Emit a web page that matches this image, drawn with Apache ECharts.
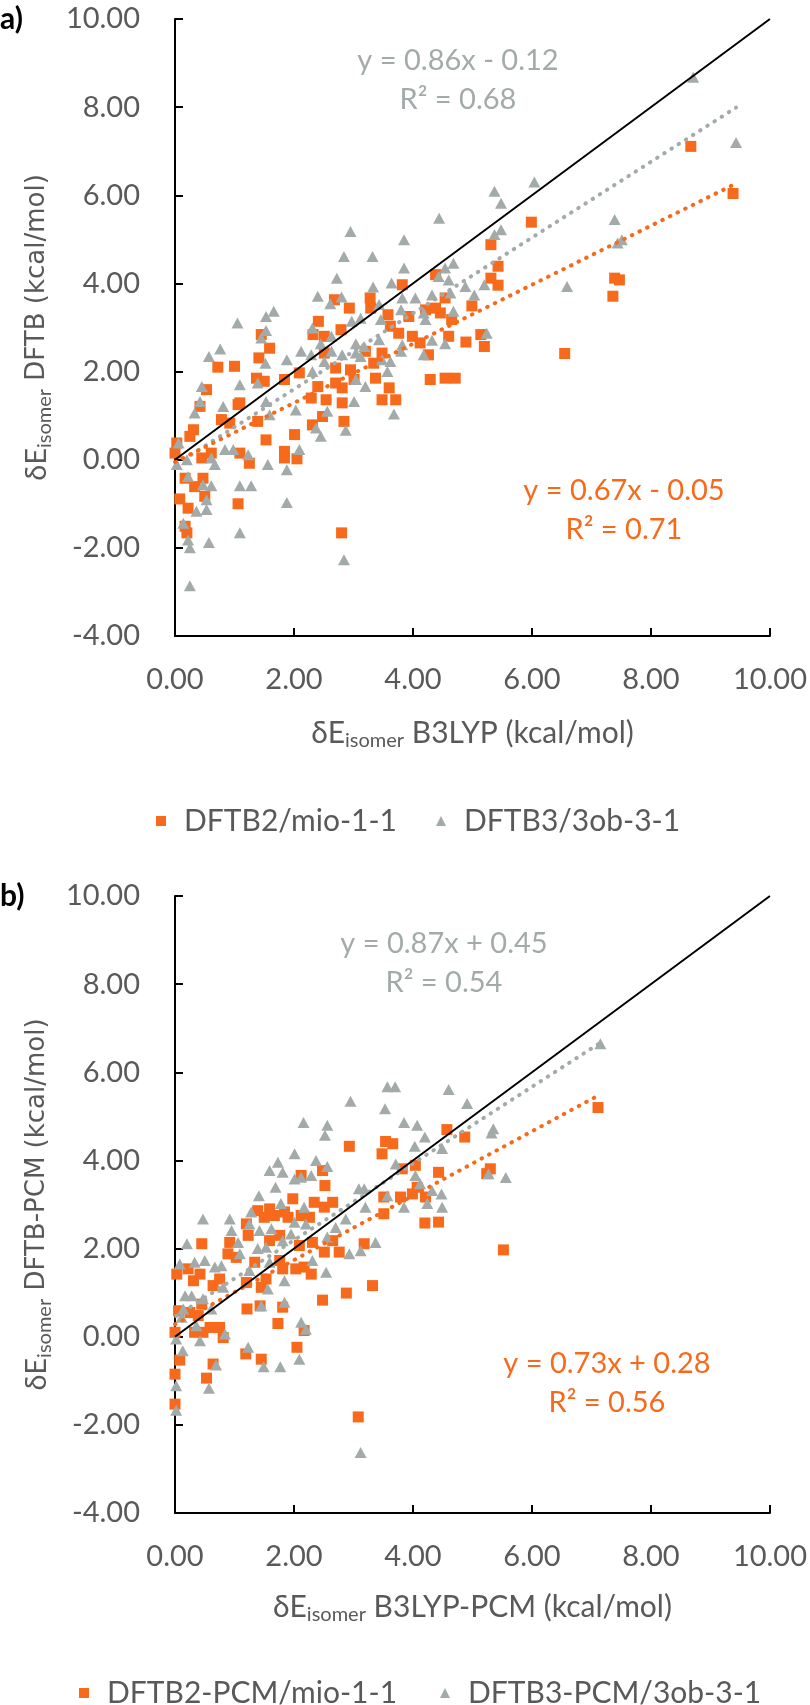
<!DOCTYPE html>
<html>
<head>
<meta charset="utf-8">
<script src="https://cdn.jsdelivr.net/npm/echarts@6/dist/echarts.min.js"></script>
<style>
html,body{margin:0;padding:0;background:#ffffff;}
#chart{width:810px;height:1705px;}
</style>
</head>
<body>
<div id="chart"></div>
<script>
// ---------------- DATA ----------------
const xTickLabels = ['0.00','2.00','4.00','6.00','8.00','10.00'];
const yTickLabels = ['-4.00','-2.00','0.00','2.00','4.00','6.00','8.00','10.00'];

const seriesNamesA = ['DFTB2/mio-1-1', 'DFTB3/3ob-3-1'];
const seriesNamesB = ['DFTB2-PCM/mio-1-1', 'DFTB3-PCM/3ob-3-1'];

// panel a) DFTB2/mio-1-1 : [B3LYP, DFTB]
const aDftb2 = [
[3.82,3.97],[4.38,4.20],[2.68,3.63],[2.93,3.44],[3.28,3.67],[3.29,3.44],[2.41,3.14],[2.32,2.84],[3.58,3.29],[3.62,3.03],
[3.76,2.87],[3.93,3.25],[4.21,3.40],[4.38,3.44],[4.46,3.33],[4.54,3.67],[4.65,3.18],[4.60,2.80],[4.89,2.67],[3.99,2.80],
[4.12,2.65],[4.26,2.38],[1.45,2.84],[1.59,2.53],[1.41,2.31],[0.72,2.10],[1.00,2.12],[1.37,1.85],[1.50,1.78],[1.84,1.82],
[2.09,1.97],[2.51,2.42],[2.70,2.08],[2.95,2.04],[3.20,2.46],[3.34,2.19],[3.37,1.85],[2.70,1.74],[2.81,1.63],[2.40,1.66],
[4.29,1.82],[4.54,1.85],[4.71,1.85],[3.60,1.63],[3.01,1.82],[0.53,1.59],[2.51,2.80],[3.48,2.42],[2.79,2.95],
[1.06,1.25],[0.78,0.91],[0.92,0.83],[0.31,0.68],[0.25,0.53],[0.03,0.38],[0.00,0.15],[0.45,0.04],[0.61,0.15],[1.09,0.15],
[1.25,-0.08],[1.53,0.45],[2.01,0.57],[1.84,0.19],[1.84,0.04],[2.05,0.02],[2.29,1.40],[2.54,1.36],[2.81,1.29],[2.84,0.87],
[2.48,0.98],[2.31,0.79],[3.48,1.36],[3.71,1.36],[1.39,0.87],[0.17,-0.42],[0.47,-0.42],[0.33,-0.61],[0.50,-0.83],[0.08,-0.89],
[0.22,-1.10],[1.06,-1.00],[0.17,-1.51],[0.20,-1.66],[2.80,-1.66],[0.42,1.21],[1.09,1.29],
[8.67,7.11],[9.38,6.04],[5.99,5.39],[5.31,4.88],[5.43,4.39],[5.31,4.12],[5.43,3.96],[7.39,4.12],[7.47,4.08],[7.36,3.71],
[4.99,3.49],[5.14,2.84],[5.20,2.57],[6.55,2.41]
];

// panel a) DFTB3/3ob-3-1
const aDftb3 = [
[4.44,5.48],[2.95,5.18],[3.85,4.99],[2.84,4.61],[3.32,4.61],[3.85,4.35],[2.72,4.12],[3.33,3.92],[3.64,4.01],[2.40,3.71],
[2.80,3.69],[2.61,3.54],[1.66,3.37],[1.53,3.25],[1.05,3.10],[1.53,2.93],[1.45,2.76],[2.31,2.99],[2.63,2.80],[2.97,3.14],
[3.12,3.21],[3.43,3.52],[3.46,3.18],[3.80,3.40],[3.82,3.67],[4.04,3.67],[4.32,3.74],[4.43,4.16],[4.54,4.35],[4.68,4.46],
[4.60,4.08],[4.63,3.78],[4.68,3.37],[4.18,3.33],[4.21,3.18],[4.88,3.93],[0.76,2.51],[0.57,2.34],[1.52,2.19],[1.88,2.27],
[2.12,2.46],[2.29,2.38],[2.45,2.63],[2.63,2.46],[2.81,2.38],[3.04,2.63],[3.18,2.57],[3.04,2.42],[3.43,2.72],[3.48,2.27],
[3.82,2.61],[3.80,2.46],[4.32,2.71],[4.54,2.63],[4.18,2.38],[3.62,2.23],[3.57,2.00],[2.31,2.00],[2.51,2.23],[1.09,1.70],
[0.45,1.66],[1.39,1.74],[3.20,1.66],[3.04,1.82],[3.12,2.34],
[0.81,1.21],[0.33,1.06],[0.42,1.32],[1.53,1.32],[1.59,1.02],[2.03,1.13],[2.56,1.10],[3.01,1.32],[3.68,1.04],[2.37,0.72],
[2.45,0.53],[2.87,0.67],[2.09,0.23],[1.88,-0.23],[1.56,-0.11],[1.23,0.11],[0.84,0.23],[0.98,0.23],[0.61,0.04],[0.67,-0.11],
[0.20,0.00],[0.03,-0.11],[0.06,0.38],[0.22,-0.38],[0.47,-0.57],[0.61,-0.59],[1.09,-0.59],[1.28,-0.59],[1.88,-0.97],[0.53,-0.91],
[0.53,-1.13],[0.36,-1.17],[0.14,-1.44],[1.09,-1.66],[0.22,-1.82],[0.25,-2.00],[0.57,-1.88],[2.84,-2.27],[0.25,-2.86],
[8.71,8.68],[9.43,7.20],[6.04,6.30],[5.37,6.09],[5.48,5.82],[7.39,5.45],[5.37,5.11],[5.48,5.22],[7.44,4.92],[7.51,4.99],
[6.59,3.93],[5.20,3.97],[5.03,3.74],[5.24,2.87]
];

// panel b) DFTB2-PCM/mio-1-1 : [B3LYP-PCM, DFTB-PCM]
const bDftb2 = [
[2.93,4.32],[3.54,4.43],[3.66,4.38],[3.48,4.15],[4.57,4.70],[4.87,4.53],[2.52,3.43],[2.48,3.77],[2.12,3.66],[4.04,3.89],
[4.43,3.73],[3.82,3.81],[1.98,3.13],[2.34,3.05],[2.65,3.05],[2.51,2.94],[1.39,2.86],[1.59,2.90],[1.84,2.83],[1.50,2.71],
[1.67,2.75],[1.90,2.71],[2.12,2.75],[2.26,2.71],[1.20,2.56],[1.23,2.30],[0.92,2.14],[1.76,2.30],[1.59,2.18],[0.45,2.11],
[0.89,1.88],[2.09,2.07],[2.31,2.14],[2.51,1.92],[2.76,1.92],[2.65,2.18],[3.18,2.11],[3.51,3.17],[3.79,3.17],[3.99,3.24],
[4.07,3.39],[4.21,3.17],[3.51,2.79],[4.20,2.58],[4.43,2.60],[1.34,1.69],[1.03,1.80],[1.76,1.73],[0.03,1.42],[0.22,1.54],
[0.42,1.42],[1.81,1.54],[2.03,1.54],[2.29,1.42],[2.17,1.58],
[3.32,1.16],[2.88,0.99],[2.48,0.83],[1.73,0.30],[1.21,0.63],[1.43,0.70],[1.81,0.67],[2.17,0.14],[2.05,-0.24],[1.19,-0.39],
[1.45,-0.51],[0.64,-0.62],[0.53,-0.94],[0.08,-0.53],[0.00,-0.85],[0.00,-1.53],[3.08,-1.82],[0.31,1.27],[0.64,1.16],[0.75,1.31],
[1.20,1.23],[1.45,1.12],[1.53,1.31],[0.06,0.59],[0.25,0.55],[0.45,0.74],[0.39,0.48],[0.59,0.21],[0.75,0.21],[0.81,-0.02],
[0.47,0.10],[0.00,0.10],[0.33,0.10],
[7.11,5.20],[5.30,3.81],[5.24,3.70],[5.52,1.97]
];

// panel b) DFTB3-PCM/3ob-3-1
const bDftb3 = [
[3.57,5.67],[3.70,5.67],[4.60,5.61],[2.95,5.34],[3.53,5.17],[4.91,5.29],[2.16,4.86],[2.56,4.80],[2.52,4.57],[3.85,4.86],
[4.07,4.80],[4.20,4.53],[4.03,4.32],[4.49,4.27],[2.01,4.15],[1.73,3.96],[1.59,3.77],[1.81,3.73],[2.37,4.00],[2.56,3.86],
[2.29,3.66],[2.01,3.58],[2.12,3.62],[3.71,3.92],[1.69,3.39],[1.41,3.20],[4.04,3.66],[4.12,3.47],[4.32,3.32],[4.48,3.24],
[4.49,2.94],[3.09,3.36],[3.18,3.36],[3.57,3.20],[3.20,2.94],[3.85,2.94],[4.24,3.02],[1.78,3.02],[2.17,2.94],[1.28,2.83],
[0.92,2.67],[0.47,2.67],[2.20,2.56],[2.01,2.60],[1.25,2.56],[0.95,2.41],[1.42,2.41],[1.62,2.45],[1.95,2.33],[2.70,2.48],
[2.87,2.67],[2.56,2.26],[2.93,1.88],[3.12,1.95],[3.37,2.14],[1.06,2.14],[1.09,1.88],[1.39,2.00],[1.53,2.03],[1.81,2.18],
[0.20,2.11],[0.08,1.65],[0.33,1.69],[0.50,1.73],[0.67,1.58],[0.78,1.61],[1.25,1.50],[1.59,1.69],[2.31,1.73],[2.54,1.46],
[1.84,1.27],[1.56,1.08],[1.84,0.78],[1.45,0.70],[2.12,0.33],[2.20,0.17],[1.23,-0.24],[0.69,-0.64],[1.49,-0.68],[1.77,-0.68],
[2.09,-0.51],[0.57,-1.17],[0.02,-1.11],[0.02,-1.67],[3.12,-2.63],[0.17,0.93],[0.28,0.93],[0.14,0.63],[0.11,0.44],[0.36,0.25],
[0.84,0.06],[0.42,-0.09],[0.13,-0.32],[0.02,-0.05],[0.61,0.63],[0.81,1.12],[0.47,0.86],
[7.15,6.65],[5.35,4.72],[5.32,4.62],[5.56,3.61],[5.27,3.70]
];

// linear trendlines shown in the chart [slope, intercept]
const aTrend2 = [0.67, -0.05];
const aTrend3 = [0.86, -0.12];
const bTrend2 = [0.73, 0.28];
const bTrend3 = [0.87, 0.45];
const aR2 = [0.71, 0.68];
const bR2 = [0.56, 0.54];

// identity line y = x
const identityX = [0, 10];

// ---------------- STYLE ----------------
const FONT = 'Lato, "Open Sans", "DejaVu Sans", sans-serif';
const TXT = '#595959';
const ORANGE = '#F76A1C';
const GRAY = '#A3ABAA';

function fmtEq(t) {
  const s = t[1] < 0 ? ' - ' : ' + ';
  return 'y = ' + t[0].toFixed(2) + 'x' + s + Math.abs(t[1]).toFixed(2);
}
function trendData(t, pts) {
  const xs = pts.map(p => p[0]);
  const x0 = Math.min.apply(null, xs), x1 = Math.max.apply(null, xs);
  return [[x0, t[0] * x0 + t[1]], [x1, t[0] * x1 + t[1]]];
}

const chart = echarts.init(document.getElementById('chart'), null, {renderer: 'canvas'});

const xNameRich = {
  d: {fontFamily: FONT, fontSize: 30, color: TXT, lineHeight: 36},
  s: {fontFamily: FONT, fontSize: 20, color: TXT, verticalAlign: 'bottom', lineHeight: 24},
  c: {fontFamily: FONT, fontSize: 30, color: TXT, lineHeight: 36}
};
const yNameRich = {
  d: {fontFamily: FONT, fontSize: 29, color: TXT, lineHeight: 36},
  s: {fontFamily: FONT, fontSize: 20, color: TXT, verticalAlign: 'bottom', lineHeight: 24},
  v: {fontFamily: '"DejaVu Sans", Verdana, sans-serif', fontSize: 26, color: TXT, lineHeight: 36}
};

function xAxisCfg(gi, name, gap) {
  return {
    type: 'value', gridIndex: gi, min: 0, max: 10, interval: 2,
    axisLine: {onZero: false, lineStyle: {color: '#000', width: 2}},
    axisTick: {inside: true, length: 8, lineStyle: {color: '#000', width: 2}},
    axisLabel: {margin: 29, fontSize: 29, fontFamily: FONT, color: TXT,
      formatter: (v, i) => xTickLabels[i]},
    splitLine: {show: false},
    name: name, nameLocation: 'middle', nameGap: gap,
    nameTextStyle: {rich: xNameRich, fontFamily: FONT, fontSize: 30, color: TXT}
  };
}
function yAxisCfg(gi, name) {
  return {
    type: 'value', gridIndex: gi, min: -4, max: 10, interval: 2,
    axisLine: {onZero: false, lineStyle: {color: '#000', width: 2}},
    axisTick: {inside: true, length: 8, lineStyle: {color: '#000', width: 2}},
    axisLabel: {margin: 35, fontSize: 29, fontFamily: FONT, color: TXT,
      formatter: (v, i) => yTickLabels[i]},
    splitLine: {show: false},
    name: name, nameLocation: 'middle', nameGap: 116, nameRotate: 90,
    nameTextStyle: {rich: yNameRich, fontFamily: FONT, fontSize: 29, color: TXT}
  };
}

function scatter(name, data, gi, isTri) {
  return {
    name: name, type: 'scatter', xAxisIndex: gi, yAxisIndex: gi, data: data,
    symbol: isTri ? 'triangle' : 'rect',
    symbolSize: isTri ? [12, 11] : 11,
    itemStyle: {color: isTri ? GRAY : ORANGE, opacity: 1},
    z: isTri ? 3 : 2, silent: true
  };
}
function trend(data, gi, color) {
  return {
    type: 'line', xAxisIndex: gi, yAxisIndex: gi, data: data, symbol: 'none',
    lineStyle: {color: color, width: 4, type: [0.5, 8], cap: 'round'},
    z: 4, silent: true
  };
}
function identity(gi) {
  return {
    type: 'line', xAxisIndex: gi, yAxisIndex: gi,
    data: identityX.map(v => [v, v]), symbol: 'none',
    lineStyle: {color: '#000', width: 2}, z: 5, silent: true
  };
}

function eqText(x, y, t, r2, color) {
  return [
    {type: 'text', x: x, y: y, style: {text: fmtEq(t), fill: color, font: '29px ' + FONT, align: 'center', verticalAlign: 'middle'}},
    {type: 'text', x: x, y: y + 39, style: {text: 'R\u00B2 = ' + r2.toFixed(2), fill: color, font: '29px ' + FONT, align: 'center', verticalAlign: 'middle'}}
  ];
}

const legendIconSq = 'path://M0,0H10V10H0Z';
const legendIconTri = 'path://M5,0L10,10H0Z';
function legendItem(name, icon, left, top) {
  return {
    data: [{name: name, icon: icon}], left: left, top: top,
    itemWidth: 36, itemHeight: 10, selectedMode: false,
    textStyle: {fontFamily: FONT, fontSize: 30, color: TXT}
  };
}

const option = {
  backgroundColor: '#ffffff',
  animation: false,
  grid: [
    {left: 175, top: 19, width: 598, height: 617},
    {left: 175, top: 896, width: 598, height: 617}
  ],
  xAxis: [
    xAxisCfg(0, '{d|\u03B4E}{s|isomer}{c| B3LYP (kcal/mol)}', 79),
    xAxisCfg(1, '{d|\u03B4E}{s|isomer}{c| B3LYP-PCM (kcal/mol)}', 76)
  ],
  yAxis: [
    yAxisCfg(0, '{d|\u03B4E}{s|isomer}{v| DFTB (kcal/mol)}'),
    yAxisCfg(1, '{d|\u03B4E}{s|isomer}{v| DFTB-PCM (kcal/mol)}')
  ],
  legend: [
    legendItem(seriesNamesA[0], legendIconSq, 151, 801),
    legendItem(seriesNamesA[1], legendIconTri, 431, 801),
    legendItem(seriesNamesB[0], legendIconSq, 74, 1673),
    legendItem(seriesNamesB[1], legendIconTri, 435, 1673)
  ],
  series: [
    scatter(seriesNamesA[0], aDftb2, 0, false),
    scatter(seriesNamesA[1], aDftb3, 0, true),
    trend(trendData(aTrend3, aDftb3), 0, GRAY),
    trend(trendData(aTrend2, aDftb2), 0, ORANGE),
    identity(0),
    scatter(seriesNamesB[0], bDftb2, 1, false),
    scatter(seriesNamesB[1], bDftb3, 1, true),
    trend(trendData(bTrend3, bDftb3), 1, GRAY),
    trend(trendData(bTrend2, bDftb2), 1, ORANGE),
    identity(1)
  ],
  graphic: [
    {type: 'text', x: 0, y: 19, style: {text: 'a)', fill: '#000', font: 'bold 30px ' + FONT, verticalAlign: 'middle'}},
    {type: 'text', x: 0, y: 896, style: {text: 'b)', fill: '#000', font: 'bold 30px ' + FONT, verticalAlign: 'middle'}}
  ].concat(
    eqText(458, 61, aTrend3, aR2[1], GRAY),
    eqText(624, 491, aTrend2, aR2[0], ORANGE),
    eqText(444, 944, bTrend3, bR2[1], GRAY),
    eqText(607, 1364, bTrend2, bR2[0], ORANGE)
  )
};
chart.setOption(option);
</script>
</body>
</html>
